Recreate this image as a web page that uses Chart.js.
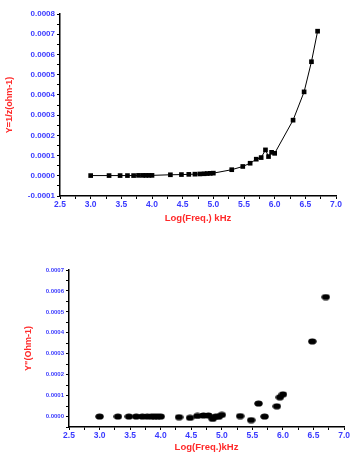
<!DOCTYPE html>
<html>
<head>
<meta charset="utf-8">
<script src="https://cdn.jsdelivr.net/npm/chart.js@4"></script>
<style>
  body { margin: 0; background: #fff; }
  .box { position: absolute; left: 0; width: 351px; }
  #top { top: 0; height: 230px; }
  #bottom { top: 230px; height: 225px; }
</style>
</head>
<body>
<div class="box" id="top"><canvas id="admChart"></canvas></div>
<div class="box" id="bottom"><canvas id="imagChart"></canvas></div>
<script>
// Y = 1/Z vs log frequency
const logFreqA = [3.0, 3.3, 3.48, 3.6, 3.7, 3.78, 3.85, 3.9, 3.95, 4.0, 4.3, 4.48, 4.6, 4.7, 4.78, 4.85, 4.9, 4.95, 5.0, 5.3, 5.48, 5.6, 5.7, 5.78, 5.85, 5.9, 5.95, 6.0, 6.3, 6.48, 6.6, 6.7];
const admittance = [0.000001, 0.000001, 0.000001, 0.000001, 0.000001, 0.000002, 0.000002, 0.000002, 0.000002, 0.000002, 0.000005, 0.000006, 0.000007, 0.000008, 0.000009, 0.00001, 0.000011, 0.000012, 0.000013, 0.00003, 0.000046, 0.000062, 0.000082, 0.00009, 0.000128, 0.000095, 0.000116, 0.000111, 0.000275, 0.000415, 0.000564, 0.000715];

// Y'' vs log frequency
const logFreqB = [3.0, 3.3, 3.48, 3.6, 3.7, 3.78, 3.85, 3.9, 3.95, 4.0, 4.3, 4.48, 4.6, 4.7, 4.78, 4.85, 4.9, 4.95, 5.0, 5.3, 5.48, 5.6, 5.7, 5.9, 5.95, 6.0, 6.48, 6.7];
const imagAdm = [0, 0, 0, 0, 0, 0, 0, 0, 0, 0, -0.000003, -0.000006, 0.000003, 0.000005, 0.000005, -0.000011, 0, -0.000001, 0.000008, 0.000002, -0.000017, 0.000062, 0, 0.000049, 0.000092, 0.000106, 0.000359, 0.000571];

const xTicks = [2.5, 3.0, 3.5, 4.0, 4.5, 5.0, 5.5, 6.0, 6.5, 7.0];

const BLUE = '#3a3aff';
const RED = '#ff2a2a';
const FONT = '"Liberation Sans", Arial, sans-serif';

function isMajor(v, step) {
    return Math.abs(v / step - Math.round(v / step)) < 1e-6;
}

// little ellipse used as marker in the second chart
const dot = document.createElement('canvas');
dot.width = 9; dot.height = 7;
const dctx = dot.getContext('2d');
dctx.fillStyle = '#000';
dctx.beginPath();
dctx.ellipse(4.5, 3.5, 4.2, 3.1, 0, 0, Math.PI * 2);
dctx.fill();

function axes(o) {
    return {
        x: {
            type: 'linear',
            min: 2.5, max: 7.0,
            afterFit: s => { s.height = o.xHeight; },
            border: { color: '#000', width: 1.5 },
            grid: { drawOnChartArea: false, drawTicks: true, tickLength: 3, color: '#000' },
            ticks: {
                stepSize: 0.25,
                autoSkip: false,
                maxRotation: 0,
                padding: 1,
                color: BLUE,
                font: { family: FONT, size: 8.5, weight: 'bold' },
                callback: v => xTicks.some(t => Math.abs(t - v) < 1e-6) ? v.toFixed(1) : ''
            },
            title: {
                display: true,
                text: o.xTitle,
                color: RED,
                font: { family: FONT, size: 9.5, weight: 'bold' },
                padding: { top: 0, bottom: o.xTitlePad }
            }
        },
        y: {
            min: o.yMin, max: o.yMax,
            afterFit: s => { s.width = o.yWidth; },
            border: { color: '#000', width: 1.5 },
            grid: { drawOnChartArea: false, drawTicks: true, tickLength: 3, color: '#000' },
            ticks: {
                stepSize: 0.00005,
                autoSkip: false,
                padding: 2,
                color: BLUE,
                font: { family: FONT, size: o.yTickSize, weight: 'bold' },
                callback: v => isMajor(v, 0.0001) ? v.toFixed(4) : ''
            },
            title: {
                display: true,
                text: o.yTitle,
                color: RED,
                font: { family: FONT, size: 9, weight: 'bold' },
                padding: { top: o.yTitlePad, bottom: 0 }
            }
        }
    };
}

new Chart(document.getElementById('admChart'), {
    type: 'line',
    data: {
        datasets: [{
            data: logFreqA.map((x, i) => ({ x: x, y: admittance[i] })),
            borderColor: '#000',
            borderWidth: 1,
            backgroundColor: '#000',
            pointStyle: 'rect',
            pointRadius: 3.3,
            pointBorderWidth: 0,
            tension: 0
        }]
    },
    options: {
        responsive: true,
        maintainAspectRatio: false,
        animation: false,
        layout: { padding: { top: 14, right: 15, left: 0, bottom: 0 } },
        plugins: { legend: { display: false }, tooltip: { enabled: false } },
        scales: axes({
            xHeight: 34, yWidth: 60, yMin: -0.0001, yMax: 0.0008,
            yTickSize: 8, xTitle: 'Log(Freq.) kHz', yTitle: 'Y=1/z(ohm-1)',
            xTitlePad: 6, yTitlePad: 4
        })
    }
});

new Chart(document.getElementById('imagChart'), {
    type: 'scatter',
    data: {
        datasets: [{
            data: logFreqB.map((x, i) => ({ x: x, y: imagAdm[i] })),
            pointStyle: dot,
            pointRadius: 4
        }]
    },
    options: {
        responsive: true,
        maintainAspectRatio: false,
        animation: false,
        layout: { padding: { top: 40, right: 4, left: 0, bottom: 0 } },
        plugins: { legend: { display: false }, tooltip: { enabled: false } },
        scales: axes({
            xHeight: 28, yWidth: 69, yMin: -0.00005, yMax: 0.0007,
            yTickSize: 6, xTitle: 'Log(Freq.)kHz', yTitle: 'Y"(Ohm-1)',
            xTitlePad: 2, yTitlePad: 23
        })
    }
});
</script>
</body>
</html>
